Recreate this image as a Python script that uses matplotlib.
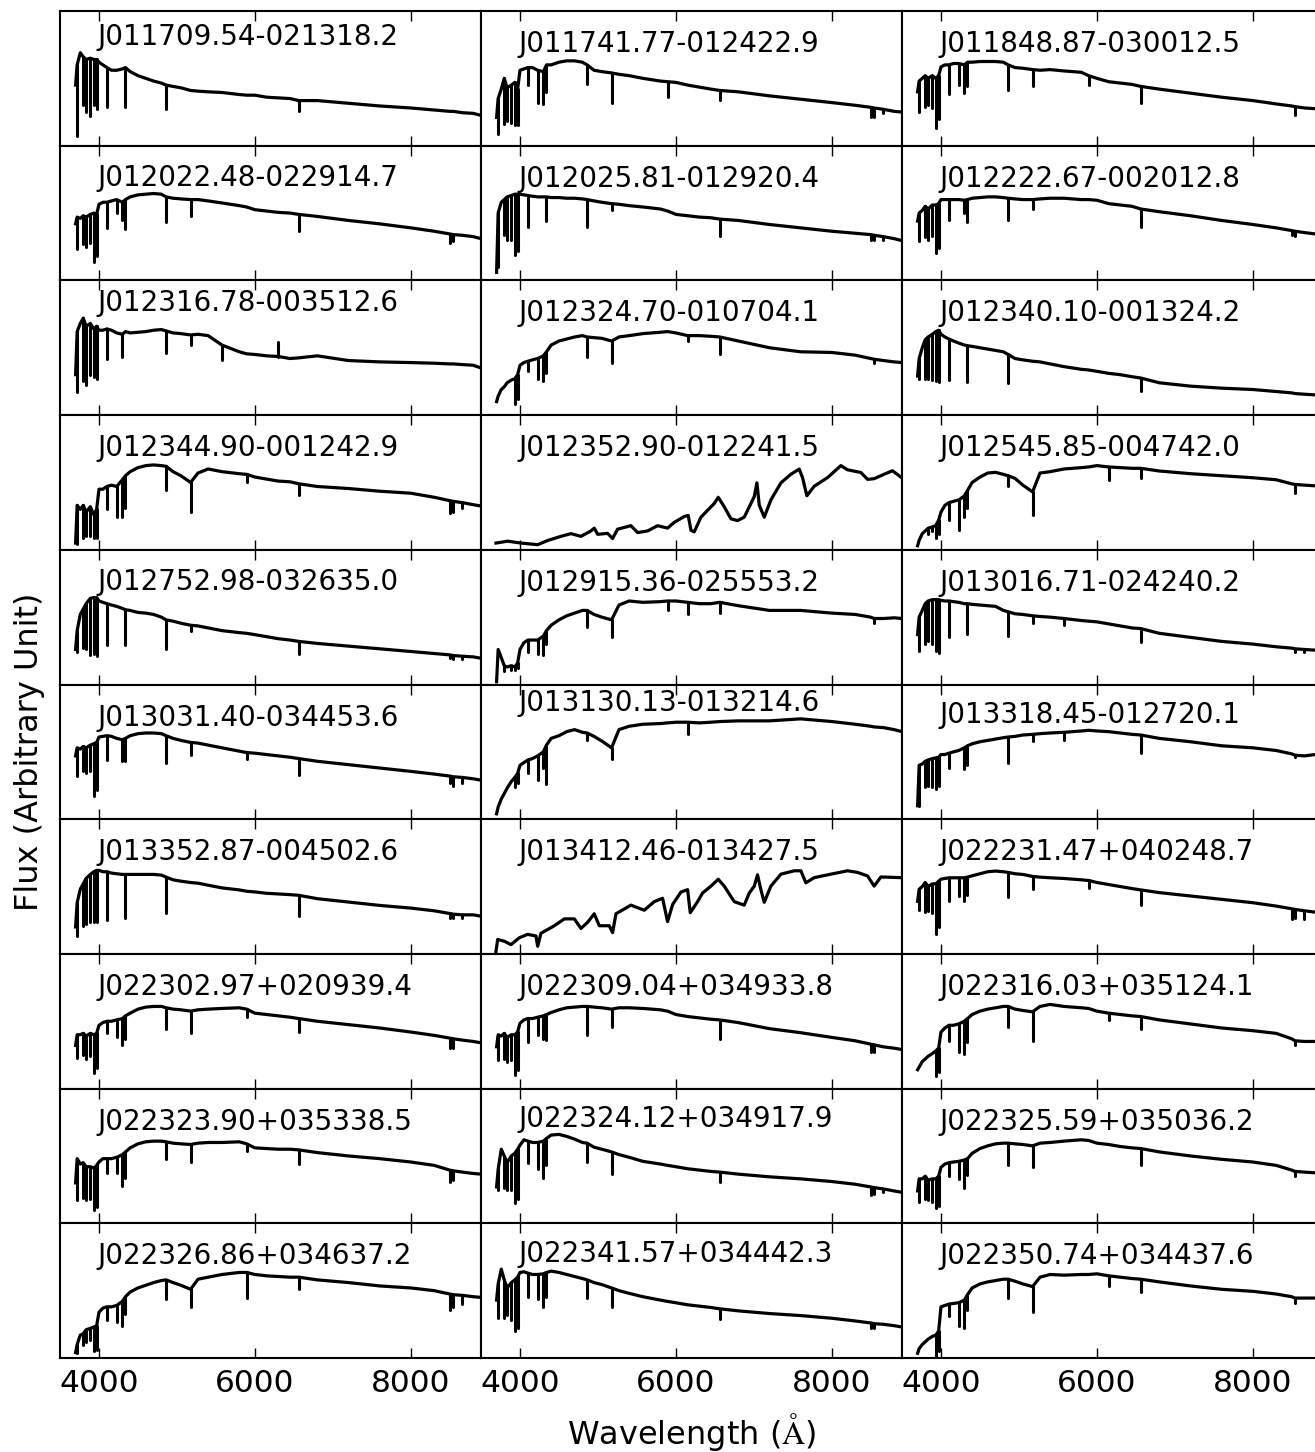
import matplotlib
matplotlib.use("Agg")
import matplotlib.pyplot as plt

# ---------------- data (flux in arbitrary units) ----------------
NAMES = [
    "J011709.54-021318.2", "J011741.77-012422.9", "J011848.87-030012.5",
    "J012022.48-022914.7", "J012025.81-012920.4", "J012222.67-002012.8",
    "J012316.78-003512.6", "J012324.70-010704.1", "J012340.10-001324.2",
    "J012344.90-001242.9", "J012352.90-012241.5", "J012545.85-004742.0",
    "J012752.98-032635.0", "J012915.36-025553.2", "J013016.71-024240.2",
    "J013031.40-034453.6", "J013130.13-013214.6", "J013318.45-012720.1",
    "J013352.87-004502.6", "J013412.46-013427.5", "J022231.47+040248.7",
    "J022302.97+020939.4", "J022309.04+034933.8", "J022316.03+035124.1",
    "J022323.90+035338.5", "J022324.12+034917.9", "J022325.59+035036.2",
    "J022326.86+034637.2", "J022341.57+034442.3", "J022350.74+034437.6",
]

# common wavelength grid (Angstrom) for the continuum samples
WAVE = [3700, 3720, 3760, 3798, 3835, 3889, 3934, 3970, 4000, 4050, 4102,
        4160, 4227, 4300, 4340, 4400, 4500, 4600, 4700, 4800, 4861, 4950,
        5050, 5175, 5270, 5400, 5577, 5800, 5893, 6000, 6150, 6300, 6450,
        6563, 6800, 7200, 7600, 8000, 8300, 8498, 8542, 8662, 8800, 8900]

XTICKS = [4000, 6000, 8000]

F_J011709 = [0.45, 0.60, 0.69, 0.66, 0.64, 0.65, 0.64, 0.64, 0.62, 0.60, 0.58,
             0.56, 0.56, 0.57, 0.58, 0.55, 0.52, 0.50, 0.48, 0.465, 0.45, 0.44,
             0.43, 0.41, 0.405, 0.40, 0.395, 0.38, 0.375, 0.375, 0.36, 0.355, 0.35,
             0.335, 0.335, 0.315, 0.295, 0.28, 0.265, 0.255, 0.255, 0.245, 0.24, 0.225]
D_J011709 = {3720: 0.07, 3798: 0.30, 3835: 0.25, 3889: 0.22, 3934: 0.30, 3970: 0.27,
             4102: 0.29, 4340: 0.29, 4861: 0.27, 6563: 0.26}

F_J011741 = [0.21, 0.35, 0.42, 0.50, 0.43, 0.45, 0.47, 0.42, 0.56, 0.57, 0.58,
             0.58, 0.56, 0.55, 0.60, 0.60, 0.62, 0.63, 0.63, 0.62, 0.60, 0.56,
             0.55, 0.54, 0.53, 0.52, 0.50, 0.48, 0.475, 0.47, 0.45, 0.435, 0.42,
             0.41, 0.40, 0.37, 0.345, 0.32, 0.30, 0.285, 0.28, 0.27, 0.255, 0.25]
D_J011741 = {3720: 0.09, 3798: 0.16, 3835: 0.18, 3889: 0.17, 3934: 0.15, 3970: 0.15,
             4102: 0.45, 4227: 0.32, 4300: 0.31, 4340: 0.40, 4861: 0.46, 5175: 0.32,
             5893: 0.365, 6563: 0.34, 8498: 0.21, 8542: 0.21, 8662: 0.24}

F_J011848 = [0.40, 0.48, 0.50, 0.52, 0.50, 0.52, 0.50, 0.52, 0.585, 0.60, 0.60,
             0.61, 0.61, 0.60, 0.62, 0.62, 0.625, 0.625, 0.625, 0.62, 0.60, 0.58,
             0.575, 0.565, 0.56, 0.565, 0.555, 0.545, 0.52, 0.50, 0.475, 0.465, 0.455,
             0.44, 0.42, 0.39, 0.36, 0.335, 0.31, 0.295, 0.29, 0.28, 0.275, 0.27]
D_J011848 = {3720: 0.25, 3798: 0.29, 3835: 0.30, 3889: 0.28, 3934: 0.13, 3970: 0.20,
             4102: 0.385, 4227: 0.45, 4300: 0.39, 4340: 0.44, 4861: 0.415, 5175: 0.44,
             5893: 0.45, 6563: 0.32, 8542: 0.23}

F_J012022 = [0.42, 0.47, 0.46, 0.48, 0.47, 0.49, 0.50, 0.49, 0.565, 0.58, 0.58,
             0.59, 0.60, 0.58, 0.60, 0.62, 0.635, 0.64, 0.645, 0.64, 0.62, 0.61,
             0.605, 0.60, 0.60, 0.59, 0.575, 0.555, 0.545, 0.525, 0.515, 0.505, 0.50,
             0.49, 0.475, 0.445, 0.42, 0.39, 0.365, 0.345, 0.34, 0.335, 0.325, 0.31]
D_J012022 = {3720: 0.23, 3798: 0.27, 3835: 0.25, 3889: 0.28, 3934: 0.14, 3970: 0.18,
             4102: 0.39, 4227: 0.50, 4300: 0.45, 4340: 0.38, 4861: 0.43, 5175: 0.48,
             6563: 0.365, 8498: 0.28, 8542: 0.29}

F_J012025 = [0.06, 0.50, 0.58, 0.60, 0.62, 0.63, 0.64, 0.64, 0.64, 0.635, 0.63,
             0.625, 0.62, 0.62, 0.62, 0.615, 0.615, 0.61, 0.61, 0.605, 0.60, 0.59,
             0.58, 0.57, 0.565, 0.555, 0.545, 0.53, 0.515, 0.49, 0.48, 0.47, 0.465,
             0.455, 0.445, 0.415, 0.39, 0.365, 0.35, 0.34, 0.335, 0.325, 0.31, 0.295]
D_J012025 = {3720: 0.10, 3798: 0.34, 3835: 0.30, 3889: 0.30, 3934: 0.19, 3970: 0.22,
             4102: 0.40, 4340: 0.44, 4861: 0.40, 5175: 0.52, 6563: 0.33, 8498: 0.30,
             8542: 0.30, 8662: 0.30}

F_J012222 = [0.44, 0.50, 0.52, 0.55, 0.53, 0.56, 0.56, 0.57, 0.60, 0.60, 0.60,
             0.60, 0.60, 0.595, 0.60, 0.61, 0.615, 0.62, 0.62, 0.615, 0.61, 0.605,
             0.60, 0.60, 0.605, 0.61, 0.61, 0.60, 0.60, 0.595, 0.57, 0.56, 0.55,
             0.53, 0.51, 0.48, 0.445, 0.415, 0.39, 0.37, 0.365, 0.355, 0.345, 0.335]
D_J012222 = {3720: 0.29, 3798: 0.32, 3835: 0.30, 3889: 0.33, 3934: 0.20, 3970: 0.24,
             4102: 0.45, 4300: 0.50, 4340: 0.435, 4861: 0.45, 5175: 0.53, 6563: 0.395,
             8498: 0.34, 8542: 0.33}

F_J012316 = [0.30, 0.62, 0.68, 0.72, 0.66, 0.68, 0.64, 0.66, 0.63, 0.63, 0.64,
             0.63, 0.61, 0.60, 0.62, 0.61, 0.615, 0.62, 0.63, 0.635, 0.625, 0.61,
             0.605, 0.595, 0.60, 0.59, 0.52, 0.47, 0.455, 0.45, 0.44, 0.435, 0.42,
             0.425, 0.44, 0.405, 0.395, 0.39, 0.385, 0.38, 0.38, 0.375, 0.37, 0.35]
D_J012316 = {3720: 0.17, 3798: 0.25, 3835: 0.22, 3889: 0.30, 3934: 0.28, 3970: 0.27,
             4102: 0.42, 4300: 0.43, 4861: 0.46, 5175: 0.52, 5577: 0.41, 6300: 0.545}

F_J012324 = [0.10, 0.14, 0.19, 0.21, 0.24, 0.26, 0.27, 0.30, 0.37, 0.39, 0.40,
             0.41, 0.42, 0.44, 0.47, 0.52, 0.55, 0.565, 0.58, 0.59, 0.58, 0.575,
             0.57, 0.55, 0.58, 0.59, 0.605, 0.615, 0.62, 0.61, 0.59, 0.59, 0.585,
             0.58, 0.55, 0.50, 0.47, 0.465, 0.445, 0.42, 0.415, 0.405, 0.395, 0.39]
D_J012324 = {3934: 0.08, 3970: 0.12, 4102: 0.33, 4227: 0.27, 4300: 0.25, 4340: 0.31,
             4861: 0.43, 5175: 0.39, 6150: 0.55, 6563: 0.45, 8542: 0.39}

F_J012340 = [0.29, 0.42, 0.50, 0.56, 0.58, 0.60, 0.62, 0.63, 0.60, 0.58, 0.565,
             0.55, 0.535, 0.52, 0.515, 0.51, 0.50, 0.49, 0.48, 0.47, 0.45, 0.42,
             0.41, 0.40, 0.395, 0.38, 0.36, 0.34, 0.335, 0.325, 0.31, 0.30, 0.285,
             0.275, 0.24, 0.215, 0.20, 0.19, 0.175, 0.165, 0.16, 0.155, 0.15, 0.145]
D_J012340 = {3720: 0.27, 3798: 0.27, 3835: 0.27, 3889: 0.26, 3934: 0.25, 3970: 0.245,
             4102: 0.26, 4340: 0.245, 4861: 0.235, 6563: 0.18}

F_J012344 = [0.05, 0.33, 0.30, 0.33, 0.28, 0.32, 0.26, 0.30, 0.45, 0.45, 0.47,
             0.48, 0.47, 0.52, 0.55, 0.58, 0.61, 0.625, 0.63, 0.625, 0.62, 0.58,
             0.55, 0.50, 0.57, 0.60, 0.58, 0.565, 0.56, 0.54, 0.525, 0.51, 0.505,
             0.49, 0.47, 0.455, 0.435, 0.42, 0.39, 0.365, 0.36, 0.35, 0.335, 0.325]
D_J012344 = {3720: 0.04, 3798: 0.09, 3835: 0.10, 3889: 0.10, 3934: 0.09, 3970: 0.09,
             4102: 0.30, 4227: 0.24, 4300: 0.24, 4340: 0.31, 4861: 0.445, 5175: 0.28,
             5893: 0.50, 6563: 0.41, 8498: 0.27, 8542: 0.28, 8662: 0.31}

# M-type spectrum sampled on its own wavelength points
WAVE_J012352 = [3692, 3842, 4013, 4227, 4355, 4526, 4654, 4782, 4910, 4953, 4996,
                5124, 5188, 5252, 5423, 5509, 5637, 5765, 5893, 5979, 6107, 6158,
                6193, 6235, 6321, 6406, 6492, 6543, 6620, 6706, 6791, 6876, 6941,
                7005, 7039, 7069, 7133, 7218, 7347, 7475, 7582, 7624, 7680, 7774,
                7945, 8116, 8201, 8372, 8458, 8543, 8672, 8778, 8894]
F_J012352 = [0.05, 0.064, 0.05, 0.038, 0.069, 0.10, 0.12, 0.10, 0.14, 0.161, 0.115,
             0.122, 0.084, 0.153, 0.179, 0.128, 0.14, 0.179, 0.161, 0.204, 0.247, 0.255,
             0.145, 0.133, 0.242, 0.293, 0.344, 0.390, 0.319, 0.230, 0.217, 0.242, 0.319,
             0.395, 0.497, 0.332, 0.242, 0.370, 0.497, 0.561, 0.599, 0.536, 0.401, 0.472,
             0.536, 0.625, 0.594, 0.574, 0.523, 0.528, 0.561, 0.587, 0.536]

F_J012545 = [0.03, 0.07, 0.12, 0.14, 0.16, 0.17, 0.18, 0.22, 0.28, 0.33, 0.35,
             0.36, 0.37, 0.40, 0.44, 0.50, 0.54, 0.57, 0.575, 0.56, 0.55, 0.53,
             0.48, 0.43, 0.57, 0.58, 0.60, 0.61, 0.615, 0.625, 0.615, 0.61, 0.605,
             0.605, 0.585, 0.565, 0.55, 0.535, 0.52, 0.49, 0.485, 0.48, 0.475, 0.47]
D_J012545 = {3835: 0.12, 3889: 0.14, 3934: 0.09, 3970: 0.12, 4102: 0.22, 4227: 0.15,
             4300: 0.24, 4340: 0.31, 4861: 0.47, 5175: 0.255, 6150: 0.52, 6563: 0.535,
             8542: 0.425}

F_J012752 = [0.26, 0.40, 0.52, 0.56, 0.60, 0.64, 0.645, 0.645, 0.62, 0.61, 0.60,
             0.59, 0.58, 0.565, 0.555, 0.55, 0.535, 0.53, 0.52, 0.50, 0.48, 0.47,
             0.455, 0.44, 0.435, 0.42, 0.40, 0.385, 0.38, 0.37, 0.355, 0.34, 0.33,
             0.32, 0.305, 0.285, 0.265, 0.245, 0.23, 0.22, 0.215, 0.21, 0.205, 0.195]
D_J012752 = {3720: 0.24, 3798: 0.27, 3835: 0.26, 3889: 0.22, 3934: 0.23, 3970: 0.21,
             4102: 0.29, 4340: 0.29, 4861: 0.26, 5175: 0.40, 6563: 0.225, 8498: 0.20,
             8542: 0.19, 8662: 0.19}

F_J012915 = [0.02, 0.26, 0.20, 0.14, 0.13, 0.14, 0.13, 0.16, 0.26, 0.31, 0.33,
             0.33, 0.33, 0.36, 0.40, 0.44, 0.48, 0.51, 0.53, 0.55, 0.55, 0.52,
             0.50, 0.48, 0.59, 0.62, 0.61, 0.615, 0.62, 0.62, 0.61, 0.60, 0.60,
             0.61, 0.585, 0.55, 0.55, 0.53, 0.52, 0.50, 0.49, 0.49, 0.495, 0.49]
D_J012915 = {3798: 0.10, 3889: 0.11, 3934: 0.11, 3970: 0.12, 4102: 0.24, 4227: 0.225,
             4300: 0.22, 4340: 0.30, 4861: 0.425, 5175: 0.35, 5893: 0.55, 6150: 0.52,
             6563: 0.53, 8542: 0.455}

F_J013016 = [0.37, 0.50, 0.55, 0.60, 0.62, 0.63, 0.63, 0.63, 0.625, 0.62, 0.62,
             0.615, 0.61, 0.60, 0.60, 0.595, 0.59, 0.585, 0.58, 0.55, 0.54, 0.525,
             0.52, 0.51, 0.505, 0.50, 0.49, 0.475, 0.47, 0.465, 0.45, 0.435, 0.42,
             0.415, 0.38, 0.35, 0.32, 0.30, 0.28, 0.27, 0.265, 0.26, 0.255, 0.25]
D_J013016 = {3720: 0.25, 3798: 0.30, 3835: 0.32, 3889: 0.30, 3934: 0.25, 3970: 0.235,
             4102: 0.35, 4340: 0.375, 4861: 0.36, 5175: 0.46, 5577: 0.44, 6563: 0.315,
             8542: 0.24, 8662: 0.24}

F_J013031 = [0.47, 0.53, 0.52, 0.54, 0.53, 0.55, 0.56, 0.57, 0.61, 0.615, 0.62,
             0.615, 0.60, 0.59, 0.60, 0.62, 0.635, 0.64, 0.64, 0.635, 0.62, 0.60,
             0.585, 0.57, 0.565, 0.55, 0.53, 0.505, 0.495, 0.49, 0.48, 0.47, 0.46,
             0.45, 0.43, 0.405, 0.38, 0.355, 0.335, 0.32, 0.315, 0.31, 0.30, 0.29]
D_J013031 = {3720: 0.32, 3798: 0.36, 3835: 0.34, 3889: 0.36, 3934: 0.175, 3970: 0.22,
             4102: 0.44, 4300: 0.43, 4340: 0.43, 4861: 0.42, 5175: 0.48, 5893: 0.45,
             6563: 0.33, 8498: 0.27, 8542: 0.25, 8662: 0.27}

F_J013130 = [0.04, 0.09, 0.15, 0.19, 0.23, 0.28, 0.31, 0.34, 0.40, 0.42, 0.44,
             0.45, 0.47, 0.50, 0.55, 0.60, 0.62, 0.65, 0.665, 0.645, 0.64, 0.615,
             0.58, 0.53, 0.665, 0.69, 0.705, 0.71, 0.715, 0.72, 0.72, 0.715, 0.72,
             0.725, 0.73, 0.73, 0.745, 0.725, 0.705, 0.69, 0.685, 0.68, 0.665, 0.65]
D_J013130 = {3934: 0.24, 3970: 0.27, 4102: 0.34, 4227: 0.29, 4300: 0.38, 4340: 0.26,
             4861: 0.59, 5175: 0.445, 6150: 0.635}

F_J013318 = [0.10, 0.40, 0.41, 0.43, 0.44, 0.45, 0.455, 0.46, 0.48, 0.48, 0.49,
             0.50, 0.51, 0.53, 0.545, 0.56, 0.575, 0.585, 0.595, 0.605, 0.61, 0.615,
             0.625, 0.63, 0.635, 0.64, 0.645, 0.655, 0.66, 0.655, 0.65, 0.64, 0.63,
             0.625, 0.60, 0.575, 0.545, 0.53, 0.51, 0.485, 0.475, 0.47, 0.48, 0.475]
D_J013318 = {3720: 0.10, 3798: 0.24, 3835: 0.25, 3889: 0.24, 3934: 0.225, 3970: 0.25,
             4102: 0.38, 4300: 0.37, 4340: 0.40, 4861: 0.42, 5175: 0.58, 5577: 0.59,
             6563: 0.495, 8542: 0.46}

F_J013352 = [0.20, 0.38, 0.48, 0.52, 0.56, 0.59, 0.61, 0.62, 0.62, 0.61, 0.61,
             0.60, 0.595, 0.59, 0.59, 0.59, 0.59, 0.59, 0.59, 0.585, 0.57, 0.55,
             0.54, 0.53, 0.525, 0.51, 0.49, 0.475, 0.465, 0.46, 0.45, 0.445, 0.44,
             0.435, 0.41, 0.385, 0.36, 0.34, 0.32, 0.30, 0.295, 0.29, 0.29, 0.28]
D_J013352 = {3720: 0.13, 3798: 0.21, 3835: 0.22, 3889: 0.235, 3934: 0.235, 3970: 0.235,
             4102: 0.25, 4340: 0.265, 4861: 0.30, 6563: 0.28, 8498: 0.27, 8542: 0.27,
             8662: 0.27}

# second M-type spectrum on its own wavelength points
WAVE_J013412 = [3692, 3714, 3799, 3885, 3992, 4098, 4205, 4227, 4269, 4440, 4569,
                4697, 4782, 4868, 4953, 5017, 5145, 5188, 5231, 5423, 5594, 5722,
                5829, 5893, 5958, 6064, 6150, 6184, 6278, 6342, 6449, 6543, 6620,
                6748, 6876, 6941, 7005, 7047, 7090, 7133, 7218, 7347, 7518, 7603,
                7667, 7774, 7988, 8201, 8330, 8458, 8543, 8629, 8894]
F_J013412 = [0.018, 0.107, 0.094, 0.069, 0.120, 0.145, 0.133, 0.056, 0.153, 0.209, 0.260,
             0.260, 0.189, 0.235, 0.298, 0.209, 0.209, 0.158, 0.298, 0.362, 0.324, 0.388,
             0.413, 0.240, 0.367, 0.459, 0.477, 0.306, 0.388, 0.452, 0.503, 0.554, 0.503,
             0.388, 0.362, 0.452, 0.503, 0.587, 0.477, 0.383, 0.503, 0.592, 0.617, 0.617,
             0.528, 0.566, 0.592, 0.617, 0.605, 0.579, 0.503, 0.571, 0.566]

F_J022231 = [0.39, 0.48, 0.50, 0.53, 0.50, 0.52, 0.52, 0.54, 0.555, 0.56, 0.565,
             0.565, 0.565, 0.565, 0.57, 0.58, 0.595, 0.61, 0.615, 0.61, 0.605, 0.595,
             0.59, 0.575, 0.57, 0.565, 0.56, 0.55, 0.545, 0.53, 0.515, 0.50, 0.485,
             0.475, 0.455, 0.43, 0.405, 0.38, 0.355, 0.335, 0.33, 0.32, 0.31, 0.305]
D_J022231 = {3720: 0.325, 3798: 0.31, 3835: 0.32, 3889: 0.30, 3934: 0.145, 3970: 0.20,
             4102: 0.39, 4227: 0.43, 4300: 0.39, 4340: 0.44, 4861: 0.425, 5175: 0.48,
             5893: 0.49, 6563: 0.36, 8498: 0.26, 8542: 0.27, 8662: 0.26}

F_J022302 = [0.32, 0.40, 0.40, 0.41, 0.39, 0.41, 0.40, 0.41, 0.47, 0.49, 0.50,
             0.50, 0.51, 0.52, 0.54, 0.56, 0.59, 0.605, 0.61, 0.61, 0.60, 0.59,
             0.585, 0.575, 0.585, 0.59, 0.595, 0.60, 0.59, 0.56, 0.55, 0.54, 0.53,
             0.52, 0.50, 0.475, 0.45, 0.42, 0.395, 0.375, 0.37, 0.36, 0.35, 0.34]
D_J022302 = {3720: 0.23, 3798: 0.25, 3835: 0.22, 3889: 0.24, 3934: 0.115, 3970: 0.15,
             4102: 0.41, 4227: 0.38, 4300: 0.32, 4340: 0.37, 4861: 0.445, 5175: 0.41,
             5893: 0.53, 6563: 0.42, 8498: 0.30, 8542: 0.30}

F_J022309 = [0.31, 0.40, 0.39, 0.41, 0.38, 0.40, 0.40, 0.42, 0.485, 0.51, 0.52,
             0.52, 0.53, 0.54, 0.55, 0.565, 0.585, 0.60, 0.605, 0.61, 0.61, 0.605,
             0.60, 0.59, 0.60, 0.60, 0.595, 0.585, 0.575, 0.55, 0.535, 0.525, 0.515,
             0.51, 0.49, 0.445, 0.415, 0.38, 0.355, 0.33, 0.325, 0.31, 0.30, 0.29]
D_J022309 = {3720: 0.215, 3798: 0.22, 3835: 0.20, 3889: 0.21, 3934: 0.10, 3970: 0.14,
             4102: 0.345, 4227: 0.40, 4300: 0.37, 4340: 0.36, 4861: 0.395, 5175: 0.46,
             6563: 0.37, 8498: 0.27, 8542: 0.27}

F_J022316 = [0.14, 0.16, 0.20, 0.22, 0.24, 0.26, 0.28, 0.30, 0.42, 0.45, 0.47,
             0.47, 0.48, 0.50, 0.52, 0.55, 0.575, 0.59, 0.60, 0.61, 0.61, 0.59,
             0.58, 0.57, 0.61, 0.625, 0.61, 0.60, 0.595, 0.575, 0.56, 0.55, 0.54,
             0.535, 0.51, 0.48, 0.45, 0.43, 0.41, 0.37, 0.355, 0.35, 0.35, 0.35]
D_J022316 = {3934: 0.09, 3970: 0.12, 4102: 0.35, 4227: 0.27, 4300: 0.255, 4340: 0.345,
             4861: 0.46, 5175: 0.35, 6150: 0.51, 6563: 0.44, 8542: 0.32}

F_J022323 = [0.30, 0.48, 0.44, 0.45, 0.42, 0.42, 0.41, 0.43, 0.455, 0.48, 0.48,
             0.48, 0.49, 0.51, 0.53, 0.56, 0.59, 0.605, 0.61, 0.61, 0.605, 0.595,
             0.59, 0.585, 0.595, 0.60, 0.60, 0.605, 0.59, 0.56, 0.555, 0.55, 0.55,
             0.545, 0.525, 0.50, 0.48, 0.455, 0.43, 0.395, 0.39, 0.38, 0.37, 0.365]
D_J022323 = {3720: 0.17, 3798: 0.19, 3835: 0.17, 3889: 0.18, 3934: 0.10, 3970: 0.12,
             4102: 0.37, 4227: 0.37, 4300: 0.275, 4340: 0.34, 4861: 0.48, 5175: 0.455,
             5893: 0.54, 6563: 0.44, 8498: 0.31, 8542: 0.32}

F_J022324 = [0.27, 0.40, 0.55, 0.50, 0.45, 0.50, 0.52, 0.55, 0.58, 0.62, 0.61,
             0.60, 0.60, 0.61, 0.63, 0.655, 0.66, 0.645, 0.625, 0.60, 0.595, 0.565,
             0.55, 0.53, 0.51, 0.49, 0.46, 0.44, 0.43, 0.42, 0.405, 0.395, 0.385,
             0.38, 0.365, 0.345, 0.33, 0.31, 0.29, 0.27, 0.265, 0.255, 0.24, 0.23]
D_J022324 = {3720: 0.25, 3798: 0.26, 3835: 0.25, 3889: 0.25, 3934: 0.15, 3970: 0.18,
             4102: 0.45, 4227: 0.40, 4300: 0.34, 4340: 0.43, 4861: 0.455, 5175: 0.365,
             6563: 0.305, 8498: 0.21, 8542: 0.22, 8662: 0.23}

F_J022325 = [0.24, 0.33, 0.33, 0.35, 0.32, 0.33, 0.33, 0.35, 0.415, 0.44, 0.45,
             0.455, 0.46, 0.47, 0.48, 0.52, 0.555, 0.575, 0.59, 0.595, 0.595, 0.59,
             0.585, 0.575, 0.595, 0.60, 0.61, 0.62, 0.615, 0.595, 0.585, 0.57, 0.56,
             0.555, 0.53, 0.50, 0.475, 0.455, 0.43, 0.395, 0.385, 0.38, 0.375, 0.375]
D_J022325 = {3720: 0.16, 3798: 0.18, 3835: 0.17, 3889: 0.16, 3934: 0.11, 3970: 0.13,
             4102: 0.35, 4227: 0.33, 4300: 0.26, 4340: 0.36, 4861: 0.43, 5175: 0.415,
             6563: 0.43, 8542: 0.35}

F_J022326 = [0.04, 0.10, 0.17, 0.18, 0.21, 0.22, 0.23, 0.24, 0.34, 0.37, 0.38,
             0.38, 0.39, 0.42, 0.455, 0.49, 0.52, 0.54, 0.56, 0.575, 0.58, 0.56,
             0.54, 0.51, 0.585, 0.60, 0.62, 0.635, 0.635, 0.62, 0.61, 0.605, 0.60,
             0.60, 0.58, 0.56, 0.535, 0.52, 0.50, 0.475, 0.47, 0.465, 0.455, 0.45]
D_J022326 = {3720: 0.04, 3798: 0.10, 3835: 0.12, 3889: 0.13, 3934: 0.05, 3970: 0.06,
             4102: 0.28, 4227: 0.27, 4300: 0.24, 4340: 0.33, 4861: 0.44, 5175: 0.38,
             5893: 0.445, 6563: 0.51, 8498: 0.355, 8542: 0.38, 8662: 0.40}

F_J022341 = [0.43, 0.55, 0.66, 0.58, 0.52, 0.56, 0.58, 0.60, 0.635, 0.64, 0.63,
             0.62, 0.62, 0.625, 0.635, 0.645, 0.635, 0.62, 0.605, 0.59, 0.58, 0.56,
             0.545, 0.52, 0.50, 0.48, 0.455, 0.43, 0.42, 0.41, 0.395, 0.385, 0.375,
             0.365, 0.35, 0.33, 0.315, 0.295, 0.275, 0.26, 0.255, 0.25, 0.24, 0.23]
D_J022341 = {3720: 0.30, 3798: 0.30, 3835: 0.32, 3889: 0.28, 3934: 0.20, 3970: 0.22,
             4102: 0.45, 4227: 0.44, 4300: 0.38, 4340: 0.45, 4861: 0.445, 5175: 0.38,
             6563: 0.29, 8498: 0.22, 8542: 0.22}

F_J022350 = [0.035, 0.07, 0.10, 0.12, 0.14, 0.16, 0.17, 0.20, 0.38, 0.39, 0.40,
             0.405, 0.41, 0.43, 0.47, 0.52, 0.55, 0.565, 0.575, 0.585, 0.585, 0.57,
             0.55, 0.53, 0.60, 0.62, 0.615, 0.62, 0.62, 0.625, 0.61, 0.60, 0.59,
             0.585, 0.565, 0.535, 0.51, 0.495, 0.475, 0.455, 0.445, 0.445, 0.445, 0.445]
D_J022350 = {3934: 0.01, 3970: 0.05, 4102: 0.31, 4227: 0.24, 4300: 0.225, 4340: 0.355,
             4861: 0.445, 5175: 0.34, 6150: 0.535, 6563: 0.49, 8542: 0.405}

# ---------------- assemble (row-major panel order) ----------------
SPECTRA = [
    (WAVE, F_J011709, D_J011709), (WAVE, F_J011741, D_J011741), (WAVE, F_J011848, D_J011848),
    (WAVE, F_J012022, D_J012022), (WAVE, F_J012025, D_J012025), (WAVE, F_J012222, D_J012222),
    (WAVE, F_J012316, D_J012316), (WAVE, F_J012324, D_J012324), (WAVE, F_J012340, D_J012340),
    (WAVE, F_J012344, D_J012344), (WAVE_J012352, F_J012352, {}), (WAVE, F_J012545, D_J012545),
    (WAVE, F_J012752, D_J012752), (WAVE, F_J012915, D_J012915), (WAVE, F_J013016, D_J013016),
    (WAVE, F_J013031, D_J013031), (WAVE, F_J013130, D_J013130), (WAVE, F_J013318, D_J013318),
    (WAVE, F_J013352, D_J013352), (WAVE_J013412, F_J013412, {}), (WAVE, F_J022231, D_J022231),
    (WAVE, F_J022302, D_J022302), (WAVE, F_J022309, D_J022309), (WAVE, F_J022316, D_J022316),
    (WAVE, F_J022323, D_J022323), (WAVE, F_J022324, D_J022324), (WAVE, F_J022325, D_J022325),
    (WAVE, F_J022326, D_J022326), (WAVE, F_J022341, D_J022341), (WAVE, F_J022350, D_J022350),
]

# ---------------- figure ----------------
plt.rcParams["font.family"] = ["DejaVu Sans"]
plt.rcParams["mathtext.fontset"] = "cm"

FW, FH = 1315, 1452
fig = plt.figure(figsize=(FW / 100, FH / 100), dpi=100)

LEFT, TOP, COLW, ROWH = 60, 11, 421, 134.7
NROW, NCOL = 10, 3

for i, (name, (wl, fl, dips)) in enumerate(zip(NAMES, SPECTRA)):
    assert len(wl) == len(fl), name
    r, c = divmod(i, NCOL)
    x0 = (LEFT + c * COLW) / FW
    y0 = 1 - (TOP + (r + 1) * ROWH) / FH
    ax = fig.add_axes([x0, y0, COLW / FW, ROWH / FH])

    ax.plot(wl, fl, color="black", lw=2.3, solid_joinstyle="round")
    for lam, bottom in dips.items():
        k = wl.index(lam)
        ax.plot([lam, lam], [fl[k], bottom], color="black", lw=2.2,
                solid_capstyle="round")

    ax.set_xlim(3500, 8900)
    ax.set_ylim(0, 1)
    ax.set_xticks(XTICKS)
    ax.set_yticks([])
    ax.tick_params(axis="x", direction="in", top=True, bottom=True,
                   length=7, width=1.0, labelsize=22.5, pad=8,
                   labelbottom=(r == NROW - 1))
    for sp in ax.spines.values():
        sp.set_linewidth(1.5)

    ty = max(0.695, max(fl) + 0.055)
    ax.text(3985, ty, name, fontsize=20, ha="left", va="baseline")

fig.text((LEFT + 1.5 * COLW) / FW, 1 - 1432 / FH, r"Wavelength ($\mathrm{\AA}$)",
         ha="center", va="center", fontsize=23)
fig.text(30 / FW, 1 - (TOP + 5.5 * ROWH) / FH, "Flux (Arbitrary Unit)",
         rotation=90, ha="center", va="center", fontsize=23)

fig.savefig("out.png", dpi=100)
